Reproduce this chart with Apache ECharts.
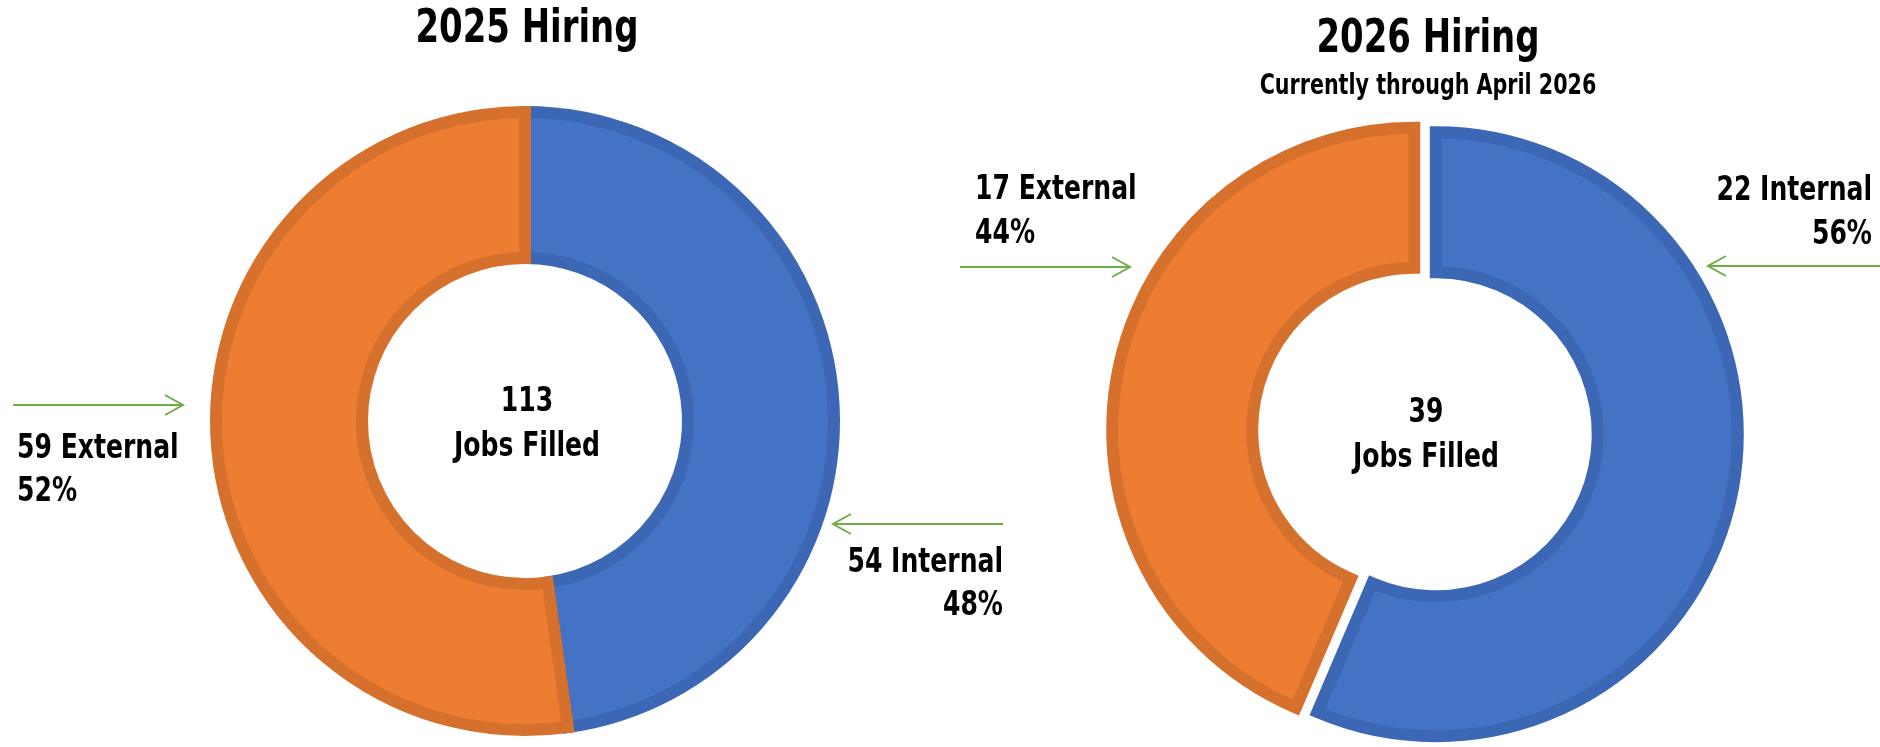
<!DOCTYPE html>
<html>
<head>
<meta charset="utf-8">
<title>Hiring</title>
<script src="https://cdn.jsdelivr.net/npm/echarts@6/dist/echarts.min.js"></script>
<style>
  html, body { margin: 0; padding: 0; background: #ffffff; }
  #chart { width: 1880px; height: 747px; }
</style>
</head>
<body>
<div id="chart"></div>
<script>
// Hiring split by source, per year
const categories = ['Internal', 'External'];
const hiring2025 = [54, 59];
const hiring2026 = [22, 17];
const titles = ['2025 Hiring', '2026 Hiring'];
const subtitle2026 = 'Currently through April 2026';

const FONT = '"DejaVu Sans Condensed", "Liberation Sans Narrow", sans-serif';
const NARROW = 0.82; // horizontal squeeze for a condensed look
const COLORS = { Internal: '#4472C4', External: '#ED7D31' };
const BORDERS = { Internal: '#3B67B5', External: '#D5712D' };
const GREEN = '#70AD47';

const sum = arr => arr.reduce((a, b) => a + b, 0);
const pct = (v, arr) => Math.round(v / sum(arr) * 100);

function pieData(values, selected) {
  return categories.map((name, i) => ({
    name,
    value: values[i],
    selected: !!selected,
    itemStyle: {
      color: COLORS[name], borderColor: BORDERS[name], borderWidth: 12,
      borderJoin: 'miter', borderMiterLimit: 20
    }
  }));
}

function pieSeries(values, center, radius, explode) {
  return {
    type: 'pie',
    center,
    radius,
    startAngle: 90,
    clockwise: true,
    silent: true,
    animation: false,
    selectedMode: explode ? 'multiple' : false,
    selectedOffset: explode ? 11 : 0,
    label: { show: false },
    labelLine: { show: false },
    emphasis: { disabled: true },
    data: pieData(values, explode)
  };
}

function text(x, y, str, size, align) {
  return {
    type: 'text',
    silent: true,
    x, y,
    scaleX: NARROW,
    style: {
      x: 0, y: 0, text: str,
      font: 'bold ' + size + 'px ' + FONT,
      fill: '#000000',
      textAlign: align,
      textVerticalAlign: 'middle'
    }
  };
}

function arrow(x1, x2, y) {
  // shaft from x1 to the tip at x2, open head at the tip
  const dir = x2 > x1 ? 1 : -1;
  return [
    { type: 'polyline', silent: true, shape: { points: [[x1, y], [x2, y]] },
      style: { stroke: GREEN, lineWidth: 2, fill: null } },
    { type: 'polyline', silent: true,
      shape: { points: [[x2 - dir * 18, y - 10], [x2, y], [x2 - dir * 18, y + 10]] },
      style: { stroke: GREEN, lineWidth: 2, fill: null } }
  ];
}

const [int25, ext25] = hiring2025;
const [int26, ext26] = hiring2026;

const chart = echarts.init(document.getElementById('chart'), null, { renderer: 'canvas' });

chart.setOption({
  backgroundColor: '#ffffff',
  animation: false,
  series: [
    pieSeries(hiring2025, [525, 421], [163, 309], false),
    pieSeries(hiring2026, [1425, 432], [162, 302], true)
  ],
  graphic: [
    text(527, 30, titles[0], 46, 'center'),
    text(1428, 40, titles[1], 46, 'center'),
    text(1428, 87, subtitle2026, 28, 'center'),

    text(527, 402, String(sum(hiring2025)), 34, 'center'),
    text(527, 447, 'Jobs Filled', 34, 'center'),
    text(1426, 413, String(sum(hiring2026)), 34, 'center'),
    text(1426, 458, 'Jobs Filled', 34, 'center'),

    text(17, 449, ext25 + ' External', 34, 'left'),
    text(17, 492, pct(ext25, hiring2025) + '%', 34, 'left'),
    text(1003, 563, int25 + ' Internal', 34, 'right'),
    text(1003, 606, pct(int25, hiring2025) + '%', 34, 'right'),

    text(975, 190, ext26 + ' External', 34, 'left'),
    text(975, 234, pct(ext26, hiring2026) + '%', 34, 'left'),
    text(1872, 191, int26 + ' Internal', 34, 'right'),
    text(1872, 235, pct(int26, hiring2026) + '%', 34, 'right'),

    ...arrow(13, 183, 405),
    ...arrow(1003, 833, 524),
    ...arrow(960, 1130, 267),
    ...arrow(1880, 1708, 266)
  ]
});
</script>
</body>
</html>
